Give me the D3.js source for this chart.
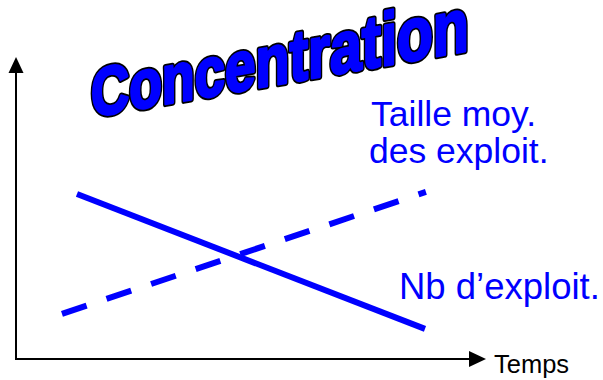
<!DOCTYPE html>
<html>
<head>
<meta charset="utf-8">
<script src="https://cdn.jsdelivr.net/npm/d3@7"></script>
<style>
  body { margin: 0; background: #fff; }
  svg { display: block; font-family: "Liberation Sans", Arial, sans-serif; }
</style>
</head>
<body>
<div id="chart"></div>
<script>
// data (arbitrary units, 0..10 on both axes)
var titre = 'Concentration';
var tempsNb = [1.30, 8.72];
var nbExploit = [5.48, 1.00];
var tempsTaille = [0.98, 8.74];
var tailleMoy = [1.50, 5.55];
var labelTaille = ['Taille moy.', 'des exploit.'];
var labelNb = 'Nb d\u2019exploit.';
var labelTemps = 'Temps';

var width = 603, height = 380;
var blue = '#0000ff';

var svg = d3.select('#chart').append('svg')
    .attr('width', width)
    .attr('height', height);

var x = d3.scaleLinear().domain([0, 10]).range([16, 485]);
var y = d3.scaleLinear().domain([0, 10]).range([359, 58]);

// axes with arrow heads
svg.append('line')
    .attr('x1', x(0)).attr('y1', y(0))
    .attr('x2', x(0)).attr('y2', y(10) + 12)
    .attr('stroke', '#000')
    .attr('stroke-width', 2);
svg.append('path')
    .attr('d', 'M' + (x(0) - 7.5) + ',' + (y(10) + 15) + 'L' + x(0) + ',' + (y(10) - 1) + 'L' + (x(0) + 7.5) + ',' + (y(10) + 15) + 'Z')
    .attr('fill', '#000');

svg.append('line')
    .attr('x1', x(0) - 1).attr('y1', y(0))
    .attr('x2', x(10) - 12).attr('y2', y(0))
    .attr('stroke', '#000')
    .attr('stroke-width', 2);
svg.append('path')
    .attr('d', 'M' + (x(10) - 16) + ',' + (y(0) - 8) + 'L' + (x(10) + 1) + ',' + y(0) + 'L' + (x(10) - 16) + ',' + (y(0) + 8) + 'Z')
    .attr('fill', '#000');

svg.append('text')
    .text(labelTemps)
    .attr('x', 494)
    .attr('y', 373)
    .attr('font-size', 25.5)
    .attr('fill', '#000');

// series
var line = d3.line()
    .x(function(d) { return x(d[0]); })
    .y(function(d) { return y(d[1]); });

svg.append('path')
    .attr('d', line(d3.zip(tempsNb, nbExploit)))
    .attr('fill', 'none')
    .attr('stroke', blue)
    .attr('stroke-width', 6);

svg.append('path')
    .attr('d', line(d3.zip(tempsTaille, tailleMoy)))
    .attr('fill', 'none')
    .attr('stroke', blue)
    .attr('stroke-width', 6)
    .attr('stroke-dasharray', '26,21');

// series labels
svg.append('text')
    .attr('x', 371)
    .attr('y', 126)
    .attr('font-size', 35.5)
    .attr('fill', blue)
    .selectAll('tspan')
    .data(labelTaille)
    .enter().append('tspan')
    .attr('x', function(d, i) { return 371 - i * 2; })
    .attr('dy', function(d, i) { return i ? 37 : 0; })
    .text(function(d) { return d; });

svg.append('text')
    .text(labelNb)
    .attr('x', 399)
    .attr('y', 299)
    .attr('font-size', 36.5)
    .attr('fill', blue);

// wordart-like title: slanted up, letters growing to the right
var size = d3.scaleLinear().domain([0, titre.length - 1]).range([68, 76]);
var g = svg.append('g');

// outline layer under, fat blue layer over it
var layers = [
  { stroke: '#000', w: 6.5 },
  { stroke: blue, w: 3 }
];
var len = 0;
layers.forEach(function(l) {
  var t = g.append('text')
      .attr('font-weight', 'bold')
      .attr('fill', blue)
      .attr('stroke', l.stroke)
      .attr('stroke-width', l.w)
      .attr('vector-effect', 'non-scaling-stroke')
      .attr('stroke-linejoin', 'round');
  t.selectAll('tspan')
      .data(titre.split(''))
      .enter().append('tspan')
      .attr('font-size', function(d, i) { return size(i); })
      .text(function(d) { return d; });
  len = t.node().getComputedTextLength();
});

var sx = 378 / len;
g.attr('transform', 'translate(91,117) skewY(-10) scale(' + sx + ',1)');
</script>
</body>
</html>
